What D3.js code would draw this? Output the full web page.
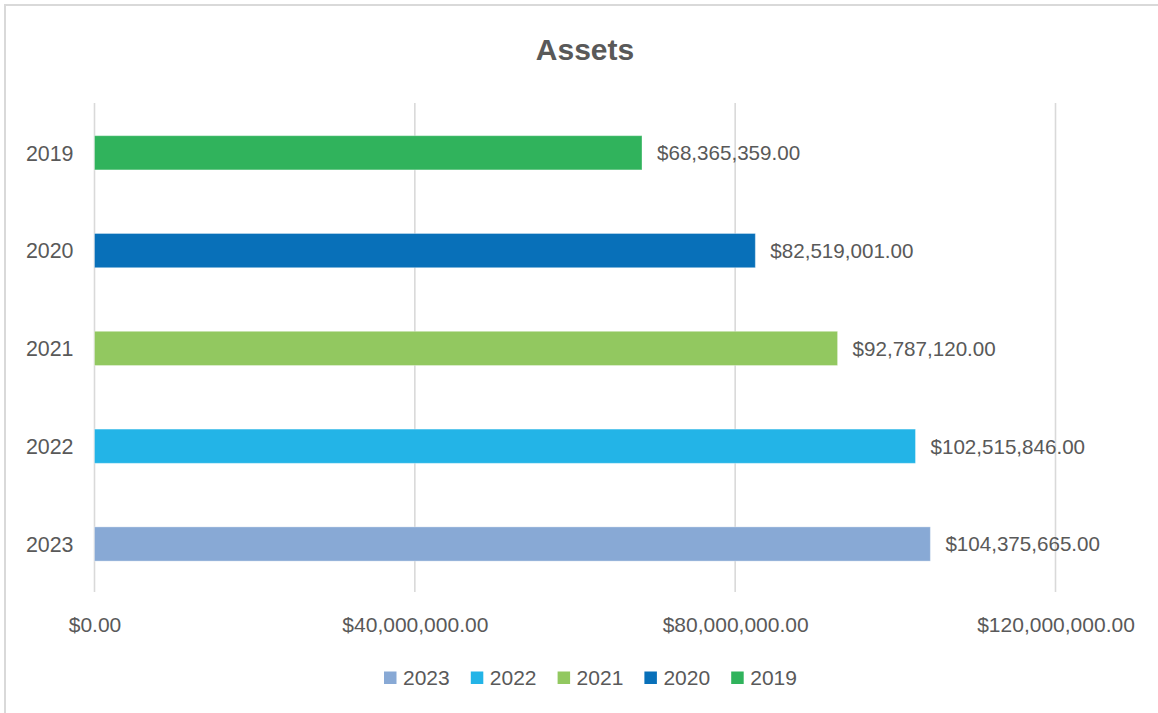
<!DOCTYPE html>
<html>
<head>
<meta charset="utf-8">
<script src="https://cdn.jsdelivr.net/npm/d3@7"></script>
<style>
  html, body { margin: 0; padding: 0; background: #fff; }
  svg { display: block; }
  text { font-family: "Liberation Sans", Arial, sans-serif; fill: #595959; }
</style>
</head>
<body>
<svg id="chart" width="1158" height="713"></svg>
<script>
// ---- data ----
const categories = ["2019", "2020", "2021", "2022", "2023"];
const values = [68365359, 82519001, 92787120, 102515846, 104375665];
const colors = ["#30b35c", "#0870b9", "#92c860", "#23b4e7", "#88a9d5"];
const legendOrder = ["2023", "2022", "2021", "2020", "2019"];
const xTicks = [0, 40000000, 80000000, 120000000];
const title = "Assets";

const svg = d3.select("#chart");
const W = 1158, H = 713;

// chart border
svg.append("rect")
  .attr("x", 5).attr("y", 5)
  .attr("width", W + 10).attr("height", H + 10)
  .attr("fill", "#fff")
  .attr("stroke", "#d9d9d9").attr("stroke-width", 2);

const plot = { left: 94.5, right: 1055.5, top: 103, bottom: 592 };

const x = d3.scaleLinear().domain([0, 120000000]).range([plot.left, plot.right]);
const y = d3.scaleBand().domain(categories).range([plot.top + 0.9, plot.bottom + 0.9]).paddingInner(0.65).paddingOuter(0.325);

const money = v => "$" + d3.format(",.2f")(v);

// gridlines
svg.append("g").selectAll("line").data(xTicks).join("line")
  .attr("x1", d => x(d)).attr("x2", d => x(d))
  .attr("y1", plot.top).attr("y2", plot.bottom)
  .attr("stroke", "#d9d9d9").attr("stroke-width", 1.6);

// x axis tick labels
const xAxis = d3.axisBottom(x).tickValues(xTicks).tickFormat(money).tickSize(0).tickPadding(0);
const gx = svg.append("g").attr("transform", `translate(0,${plot.bottom})`).call(xAxis);
gx.select(".domain").remove();
gx.selectAll("text")
  .attr("y", 40).attr("dy", null)
  .style("font-size", "21px").attr("fill", "#595959")
  .style("font-family", "'Liberation Sans', Arial, sans-serif");

// y axis labels
const yAxis = d3.axisLeft(y).tickSize(0).tickPadding(0);
const gy = svg.append("g").attr("transform", `translate(${plot.left},0)`).call(yAxis);
gy.select(".domain").remove();
gy.selectAll("text")
  .attr("x", -21).attr("dy", "0.36em")
  .style("font-size", "21.4px").attr("fill", "#595959")
  .style("font-family", "'Liberation Sans', Arial, sans-serif");

// bars
svg.append("g").selectAll("rect").data(categories).join("rect")
  .attr("x", x(0))
  .attr("y", d => y(d))
  .attr("width", (d, i) => x(values[i]) - x(0))
  .attr("height", y.bandwidth())
  .attr("fill", (d, i) => colors[i])
  .attr("stroke", "#ffffff").attr("stroke-opacity", 0.35).attr("stroke-width", 1);

// data labels
svg.append("g").selectAll("text").data(categories).join("text")
  .attr("x", (d, i) => x(values[i]) + 15)
  .attr("y", d => y(d) + y.bandwidth() / 2)
  .attr("dy", "0.36em")
  .style("font-size", "20.6px")
  .text((d, i) => money(values[i]));

// title
svg.append("text")
  .attr("x", 585).attr("y", 60)
  .attr("text-anchor", "middle")
  .style("font-size", "30px").style("font-weight", "bold")
  .text(title);

// legend
const legend = svg.append("g");
const items = legend.selectAll("g").data(legendOrder).join("g")
  .attr("transform", (d, i) => `translate(${384 + i * 86.8},0)`);
items.append("rect")
  .attr("x", 0).attr("y", 671.5).attr("width", 12.5).attr("height", 12.5)
  .attr("fill", d => colors[categories.indexOf(d)]);
items.append("text")
  .attr("x", 19).attr("y", 685)
  .style("font-size", "21px")
  .text(d => d);
</script>
</body>
</html>
